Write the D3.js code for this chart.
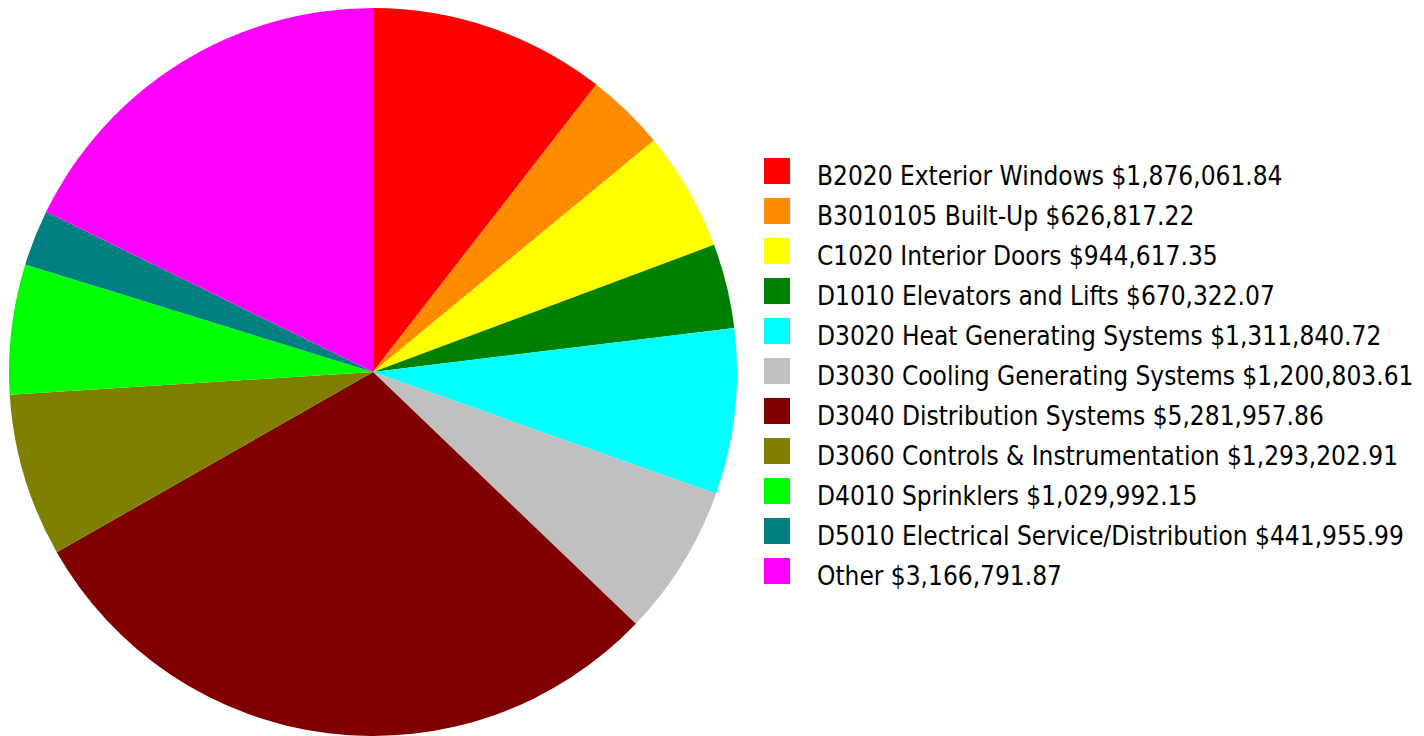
<!DOCTYPE html>
<html>
<head>
<meta charset="utf-8">
<script src="https://cdn.jsdelivr.net/npm/d3@7"></script>
<style>
  html, body { margin: 0; padding: 0; background: #fff; }
  svg { display: block; }
  .legend text { font-family: "DejaVu Sans Condensed", "DejaVu Sans", sans-serif; font-size: 26px; fill: #000; }
</style>
</head>
<body>
<svg id="chart" width="1424" height="736"></svg>
<script>
const categories = [
  "B2020 Exterior Windows",
  "B3010105 Built-Up",
  "C1020 Interior Doors",
  "D1010 Elevators and Lifts",
  "D3020 Heat Generating Systems",
  "D3030 Cooling Generating Systems",
  "D3040 Distribution Systems",
  "D3060 Controls & Instrumentation",
  "D4010 Sprinklers",
  "D5010 Electrical Service/Distribution",
  "Other"
];
const costs = [
  1876061.84, 626817.22, 944617.35, 670322.07, 1311840.72, 1200803.61,
  5281957.86, 1293202.91, 1029992.15, 441955.99, 3166791.87
];
const colors = [
  "#ff0000", "#ff8c00", "#ffff00", "#008000", "#00ffff", "#c0c0c0",
  "#800000", "#808000", "#00ff00", "#008080", "#ff00ff"
];

const data = categories.map((name, i) => ({ name, value: costs[i], color: colors[i] }));
const money = d3.format("$,.2f");

const svg = d3.select("#chart");
const cx = 373, cy = 372, radius = 364;

const pie = d3.pie().sort(null).value(d => d.value);
const arc = d3.arc().innerRadius(0).outerRadius(radius);

svg.append("g")
  .attr("transform", `translate(${cx},${cy})`)
  .selectAll("path")
  .data(pie(data))
  .join("path")
  .attr("d", arc)
  .attr("fill", d => d.data.color);

// Legend
const rowY = d3.scaleBand().domain(d3.range(data.length)).range([158, 598]);
const legend = svg.append("g").attr("class", "legend");
const rows = legend.selectAll("g").data(data).join("g")
  .attr("transform", (d, i) => `translate(764,${rowY(i)})`);
rows.append("rect").attr("width", 26).attr("height", 26).attr("fill", d => d.color);
rows.append("text")
  .attr("x", 53)
  .attr("y", 27)
  .text(d => `${d.name} ${money(d.value)}`);
</script>
</body>
</html>
